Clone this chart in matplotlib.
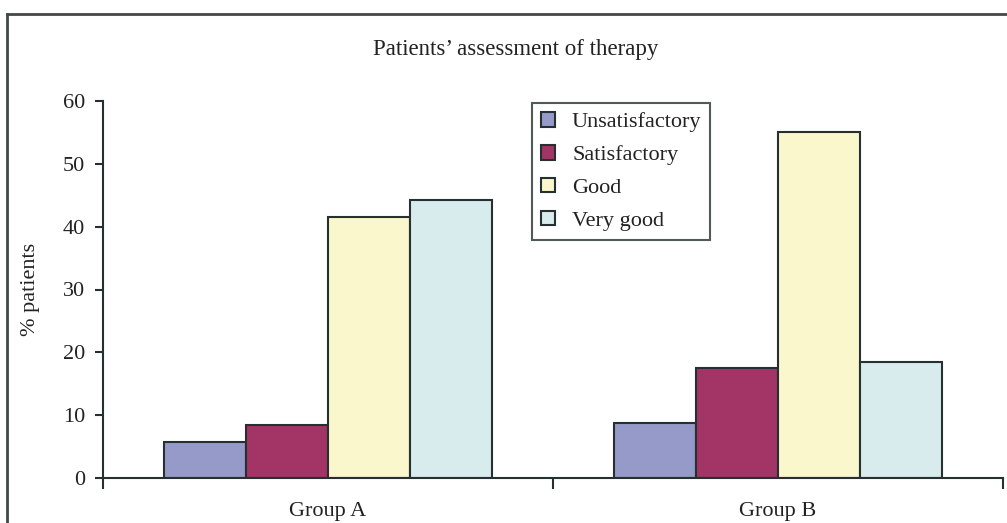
import numpy as np
import matplotlib
matplotlib.use("Agg")
import matplotlib.pyplot as plt
from matplotlib.lines import Line2D

plt.rcParams['font.family'] = ['Liberation Serif', 'DejaVu Serif']

# data
groups = ["Group A", "Group B"]
ratings = ["Unsatisfactory", "Satisfactory", "Good", "Very good"]
unsatisfactory = [5.7, 8.8]
satisfactory = [8.5, 17.5]
good = [41.6, 55.0]
very_good = [44.3, 18.4]
colors = ["#959ac9", "#a23566", "#faf7cc", "#d8ecee"]
edge = "#263030"
txt = "#222222"

W, H = 1007, 523
fig = plt.figure(figsize=(W / 100, H / 100), dpi=100)
ax = fig.add_axes([103 / W, (H - 478) / H, 900 / W, 377 / H])

x = np.arange(len(groups))
bw = 1 / 5.5
series = [unsatisfactory, satisfactory, good, very_good]
for i, (vals, lab, c) in enumerate(zip(series, ratings, colors)):
    ax.bar(x + (i - 1.5) * bw, vals, bw, color=c, edgecolor=edge,
           linewidth=1.5, label=lab, zorder=2)

ax.set_xlim(-0.5, 1.5)
ax.set_ylim(0, 60)
ax.set_yticks(np.arange(0, 61, 10))
ax.set_xticks([-0.5, 0.5, 1.5])
ax.set_xticklabels([])
ax.set_xticks(x, minor=True)
ax.set_xticklabels(groups, minor=True)
ax.tick_params(axis='x', which='major', direction='out', length=8,
               width=1.5, color=edge)
ax.tick_params(axis='x', which='minor', length=0, pad=17, labelsize=16,
               labelcolor=txt)
ax.tick_params(axis='y', direction='out', length=6, width=1.5, color=edge,
               pad=7, labelsize=16, labelcolor=txt)

for s in ['top', 'right']:
    ax.spines[s].set_visible(False)
for s in ['left', 'bottom']:
    ax.spines[s].set_color(edge)
    ax.spines[s].set_linewidth(1.5)

ax.set_ylabel("% patients", fontsize=16, color=txt, labelpad=16)

fig.text(516 / W, 1 - 49 / H, "Patients\u2019 assessment of therapy",
         ha='center', va='center', fontsize=16.5, color=txt)

leg = ax.legend(loc='upper left',
                bbox_to_anchor=((532 - 103) / 900, (478 - 103) / 377),
                fontsize=16, frameon=True, fancybox=False,
                edgecolor=edge, borderaxespad=0, handlelength=0.65,
                handleheight=0.65, handletextpad=0.75, labelspacing=0.57,
                borderpad=0.4)
leg.get_frame().set_linewidth(1.5)
for t in leg.get_texts():
    t.set_color(txt)

# outer frame of the figure (only top and left visible)
fig.add_artist(Line2D([7 / W, 7 / W], [0, 1 - 14 / H], transform=fig.transFigure,
                      color="#444848", linewidth=2))
fig.add_artist(Line2D([7 / W, 1], [1 - 14 / H, 1 - 14 / H], transform=fig.transFigure,
                      color="#444848", linewidth=2))

fig.savefig("out.png", dpi=100)
